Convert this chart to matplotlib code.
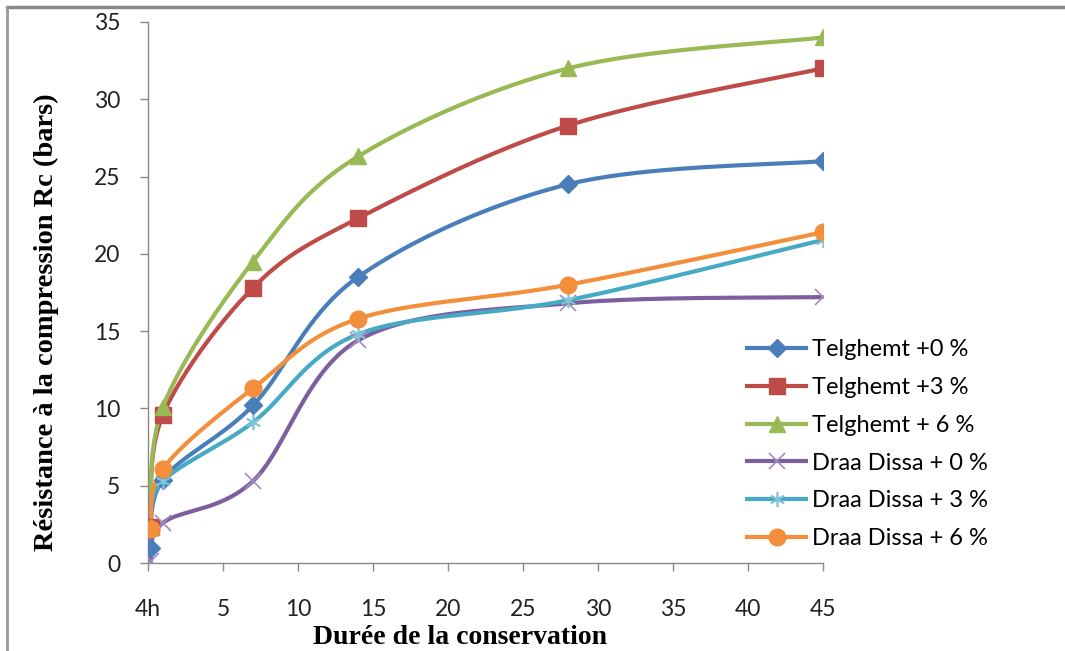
import numpy as np
import matplotlib
matplotlib.use("Agg")
import matplotlib.pyplot as plt
from matplotlib.lines import Line2D

days = [0.17, 1, 7, 14, 28, 45]
series_names = ["Telghemt +0 %", "Telghemt +3 %", "Telghemt + 6 %",
                "Draa Dissa + 0 %", "Draa Dissa + 3 %", "Draa Dissa + 6 %"]
telghemt_0 = [1.0, 5.4, 10.2, 18.5, 24.5, 26.0]
telghemt_3 = [2.3, 9.6, 17.8, 22.3, 28.3, 32.0]
telghemt_6 = [2.3, 10.1, 19.5, 26.3, 32.0, 34.0]
draa_0 = [0.1, 2.6, 5.3, 14.4, 16.8, 17.2]
draa_3 = [2.2, 5.3, 9.1, 14.8, 17.0, 20.9]
draa_6 = [2.2, 6.1, 11.3, 15.8, 18.0, 21.4]
x_ticks = [0, 5, 10, 15, 20, 25, 30, 35, 40, 45]
x_tick_labels = ["4h", "5", "10", "15", "20", "25", "30", "35", "40", "45"]
y_ticks = [0, 5, 10, 15, 20, 25, 30, 35]

values = [telghemt_0, telghemt_3, telghemt_6, draa_0, draa_3, draa_6]
colors = ["#4A7EBB", "#BE4B48", "#98B954", "#7D5FA0", "#46AAC5", "#F38F3C"]
markers = ["D", "s", "^", "x", (6, 2, 0), "o"]
msizes = [9, 11, 11, 11, 11, 12]
medge = ["#4A7EBB", "#BE4B48", "#98B954", "#A08CC0", "#7FC4D8", "#F38F3C"]


def excel_smooth(x, y, n=40):
    x = np.asarray(x, float)
    y = np.asarray(y, float)
    xs, ys = [], []
    m = len(x)
    for i in range(m - 1):
        p0 = np.array([x[max(i - 1, 0)], y[max(i - 1, 0)]])
        p1 = np.array([x[i], y[i]])
        p2 = np.array([x[i + 1], y[i + 1]])
        p3 = np.array([x[min(i + 2, m - 1)], y[min(i + 2, m - 1)]])
        c1 = p1 + (p2 - p0) / 6.0
        c2 = p2 - (p3 - p1) / 6.0
        t = np.linspace(0, 1, n)[:, None]
        pts = ((1 - t) ** 3) * p1 + 3 * ((1 - t) ** 2) * t * c1 + 3 * (1 - t) * t ** 2 * c2 + t ** 3 * p2
        xs.extend(pts[:, 0])
        ys.extend(pts[:, 1])
    return np.array(xs), np.array(ys)


fig = plt.figure(figsize=(10.65, 6.51), dpi=100)
ax = fig.add_axes([148 / 1065, 1 - 563 / 651, (823 - 148) / 1065, (563 - 22) / 651])

for vals, c, mk, ms, me in zip(values, colors, markers, msizes, medge):
    sx, sy = excel_smooth(days, vals)
    ax.plot(sx, sy, color=c, lw=3.0, solid_capstyle="round", zorder=2)
    if mk in ("x",) or isinstance(mk, tuple):
        ax.plot(days, vals, ls="none", marker=mk, ms=ms, mec=me, mew=1.2, zorder=3)
    else:
        ax.plot(days, vals, ls="none", marker=mk, ms=ms, mfc=c, mec=c, zorder=3)

ax.set_xlim(0, 45)
ax.set_ylim(0, 35)
ax.set_xticks(x_ticks)
ax.set_xticklabels(x_tick_labels)
ax.set_yticks(y_ticks)
for s in ["top", "right"]:
    ax.spines[s].set_visible(False)
for s in ["left", "bottom"]:
    ax.spines[s].set_color("#888888")
    ax.spines[s].set_linewidth(1.0)
ax.tick_params(axis="both", colors="#888888", length=6, width=1.0, direction="out",
               labelcolor="#222222", labelsize=16.5)
ax.tick_params(axis="x", pad=20)
ax.tick_params(axis="y", pad=14)
for lab in ax.get_xticklabels() + ax.get_yticklabels():
    lab.set_family("Lato")

ax.set_xlabel("Durée de la conservation", family="Liberation Serif", fontweight="bold",
              fontsize=20)
ax.xaxis.set_label_coords((460 - 148) / 675, -(637 - 563) / 541)
ax.xaxis.label.set_verticalalignment("center")
ax.set_ylabel("Résistance à la compression Rc (bars)", family="Liberation Serif",
              fontweight="bold", fontsize=20.5)
ax.yaxis.set_label_coords(-(148 - 46) / 675, (563 - 322) / 541)
ax.yaxis.label.set_verticalalignment("center")

handles = []
for name, c, mk, ms, me in zip(series_names, colors, markers, msizes, medge):
    if mk in ("x",) or isinstance(mk, tuple):
        h = Line2D([], [], color=c, lw=3.0, marker=mk, ms=ms, mec=me, mew=1.2)
    else:
        h = Line2D([], [], color=c, lw=3.0, marker=mk, ms=ms, mfc=c, mec=c)
    handles.append(h)
fig.legend(handles, series_names, loc="upper left",
           bbox_to_anchor=(726 / 1065, 1 - 318 / 651), frameon=False,
           handlelength=2.5, handletextpad=0.25, labelspacing=0.71,
           prop={"family": "Lato", "size": 17})

fig.add_artist(Line2D([7 / 1065, 1], [1 - 7 / 651, 1 - 7 / 651], transform=fig.transFigure,
                      color="#888888", lw=2.5))
fig.add_artist(Line2D([7 / 1065, 7 / 1065], [0, 1 - 7 / 651], transform=fig.transFigure,
                      color="#999999", lw=2.0))

fig.savefig("out.png", dpi=100)
